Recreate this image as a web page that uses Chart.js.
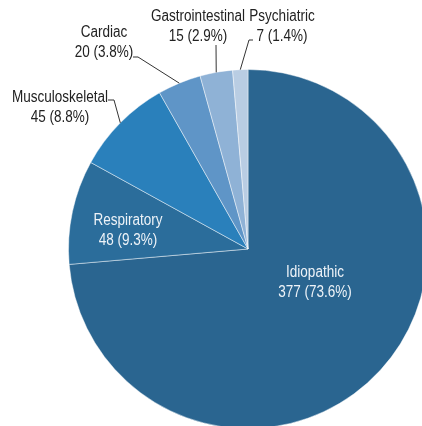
<!DOCTYPE html>
<html>
<head>
<meta charset="utf-8">
<script src="https://cdn.jsdelivr.net/npm/chart.js@4/dist/chart.umd.min.js"></script>
<style>
  html, body { margin: 0; padding: 0; background: #fff; overflow: hidden; }
  #wrap { position: relative; width: 422px; height: 426px; overflow: hidden; }
  canvas { position: absolute; left: 0; top: 0; }
</style>
</head>
<body>
<div id="wrap"><canvas id="pie" width="430" height="430"></canvas></div>
<script>
const categories = ["Idiopathic", "Respiratory", "Musculoskeletal", "Cardiac", "Gastrointestinal", "Psychiatric"];
const counts = [377, 48, 45, 20, 15, 7];
const percentLabels = ["73.6%", "9.3%", "8.8%", "3.8%", "2.9%", "1.4%"];
const sliceColors = ["#2a6590", "#2b6d9b", "#2a80bb", "#5f95c7", "#8fb2d6", "#b9cde3"];

// where each label sits, as an offset from the pie centre
// leader: bend points (offsets too), the line then runs to the slice edge
const labelLayout = [
  { dx: 67, dy: 24, color: "#eef3f8" },
  { dx: -120, dy: -28, color: "#eef3f8" },
  { dx: -188, dy: -151, color: "#222", leader: [[-140, -149], [-134, -149]] },
  { dx: -144, dy: -216, color: "#222", leader: [[-115, -192], [-110, -192]] },
  { dx: -50, dy: -232, color: "#222", leader: [[-32, -204]] },
  { dx: 34, dy: -232, color: "#222", leader: [[5, -209], [1, -209]] },
];

// the original uses a condensed face; squeeze Arial sideways instead
const squeeze = 0.845;

function narrowText(ctx, text, x, y) {
  ctx.save();
  ctx.translate(x, y);
  ctx.scale(squeeze, 1);
  ctx.fillText(text, 0, 0);
  ctx.restore();
}

const sliceLabels = {
  id: "sliceLabels",
  afterDatasetsDraw(chart) {
    const ctx = chart.ctx;
    const arcs = chart.getDatasetMeta(0).data;
    ctx.save();
    ctx.font = "16px Arial, 'Liberation Sans', sans-serif";
    ctx.textAlign = "center";
    ctx.textBaseline = "middle";
    arcs.forEach((arc, i) => {
      const lay = labelLayout[i];
      const cx = arc.x, cy = arc.y;
      if (lay.leader) {
        const mid = (arc.startAngle + arc.endAngle) / 2;
        ctx.beginPath();
        ctx.strokeStyle = "#333";
        ctx.lineWidth = 1;
        lay.leader.forEach((p, k) => {
          if (k === 0) ctx.moveTo(cx + p[0], cy + p[1]);
          else ctx.lineTo(cx + p[0], cy + p[1]);
        });
        ctx.lineTo(cx + Math.cos(mid) * arc.outerRadius, cy + Math.sin(mid) * arc.outerRadius);
        ctx.stroke();
      }
      ctx.fillStyle = lay.color;
      narrowText(ctx, categories[i], cx + lay.dx, cy + lay.dy);
      narrowText(ctx, counts[i] + " (" + percentLabels[i] + ")", cx + lay.dx, cy + lay.dy + 20);
    });
    ctx.restore();
  }
};

const ctx = document.getElementById("pie").getContext("2d");
new Chart(ctx, {
  type: "pie",
  data: {
    labels: categories,
    datasets: [{
      data: counts,
      backgroundColor: sliceColors,
      borderColor: "rgba(255,255,255,0.45)",
      borderWidth: 1,
    }],
  },
  options: {
    responsive: false,
    animation: false,
    layout: { padding: { left: 68, top: 69, right: 2, bottom: 1 } },
    plugins: {
      legend: { display: false },
      tooltip: { enabled: false },
    },
  },
  plugins: [sliceLabels],
});
</script>
</body>
</html>
